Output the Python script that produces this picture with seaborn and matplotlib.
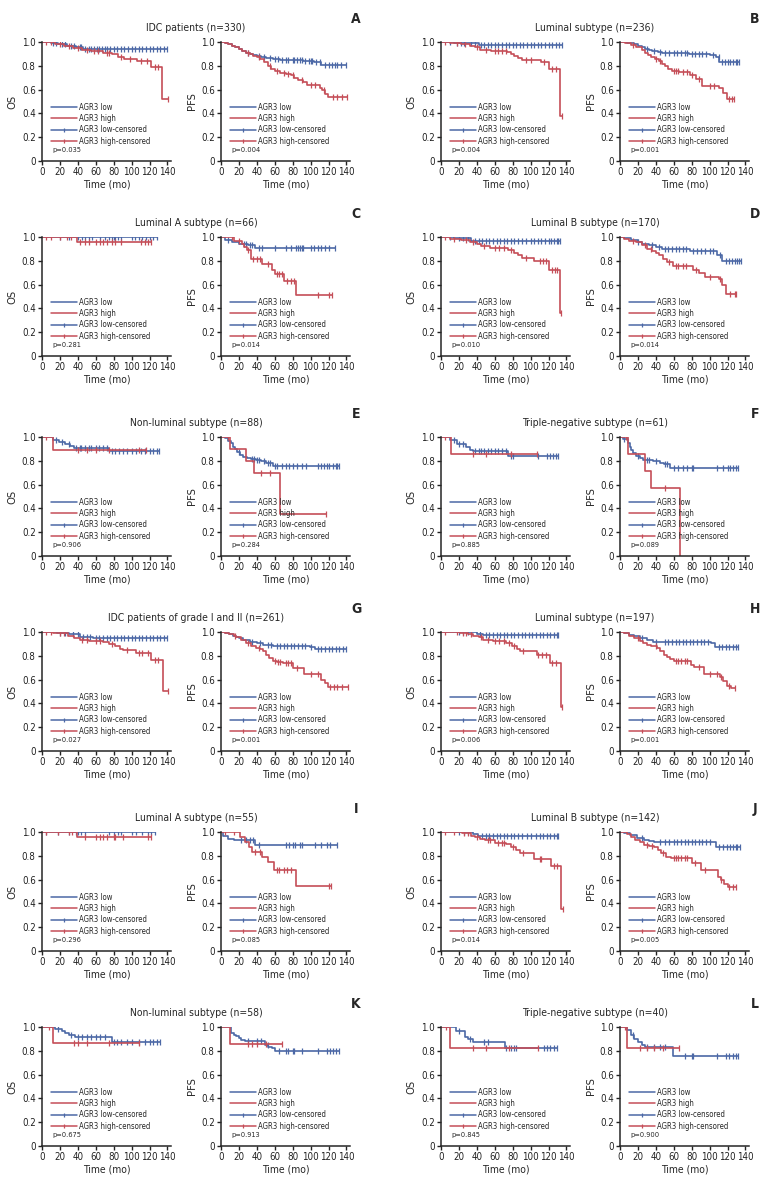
import matplotlib
matplotlib.use('Agg')

import matplotlib.pyplot as plt
from matplotlib.lines import Line2D
import seaborn as sns

# each curve: (event times, survival after each event, censor times)
A_os_low = ([10, 18, 28, 38, 46], [0.99, 0.98, 0.97, 0.955, 0.945],
            [12, 16, 22, 26, 32, 36, 42, 44, 48, 52, 55, 58, 61, 64, 67, 70, 73, 76, 80, 84, 88, 92, 96,
             100, 104, 108, 112, 116, 120, 124, 128, 132, 136, 140])
A_os_high = ([15, 25, 35, 45, 55, 68, 78, 85, 92, 106, 122, 134],
             [0.98, 0.965, 0.95, 0.935, 0.925, 0.91, 0.895, 0.87, 0.86, 0.84, 0.79, 0.52],
             [5, 10, 20, 30, 40, 50, 58, 63, 72, 75, 88, 98, 110, 117, 126, 130, 141])
A_pfs_low = ([4, 8, 12, 16, 20, 24, 28, 32, 36, 40, 45, 50, 58, 66, 78, 92, 104, 112],
             [0.99, 0.98, 0.97, 0.955, 0.94, 0.925, 0.91, 0.9, 0.89, 0.88, 0.87, 0.865, 0.855, 0.85, 0.845,
              0.84, 0.835, 0.81],
             [30, 42, 48, 55, 60, 64, 68, 72, 75, 80, 82, 85, 88, 90, 94, 98, 100, 102, 106, 110, 116,
              120, 124, 127, 130, 134, 140])
A_pfs_high = ([4, 8, 12, 16, 20, 24, 28, 32, 36, 40, 44, 48, 52, 56, 60, 66, 72, 78, 82, 86, 92, 96, 110,
               113, 116, 119],
              [0.99, 0.98, 0.97, 0.96, 0.945, 0.925, 0.91, 0.895, 0.88, 0.87, 0.855, 0.83, 0.8, 0.77, 0.755,
               0.74, 0.73, 0.72, 0.7, 0.68, 0.665, 0.635, 0.615, 0.595, 0.565, 0.54],
              [30, 42, 55, 62, 70, 75, 80, 90, 100, 105, 115, 125, 130, 135, 141])

B_os_low = ([15, 30, 42], [0.995, 0.99, 0.975],
            [10, 18, 22, 26, 34, 38, 45, 48, 52, 56, 60, 64, 68, 72, 76, 80, 84, 88, 92, 96, 100, 104,
             108, 112, 116, 120, 124, 128, 132, 135])
B_os_high = ([10, 22, 32, 38, 44, 56, 74, 78, 82, 86, 90, 112, 121, 133],
             [0.995, 0.985, 0.97, 0.955, 0.935, 0.922, 0.912, 0.9, 0.88, 0.865, 0.85, 0.83, 0.775, 0.38],
             [5, 18, 27, 40, 50, 60, 64, 68, 72, 95, 100, 115, 124, 128, 135])
B_pfs_low = ([8, 16, 20, 24, 28, 32, 36, 42, 47, 77, 100, 107, 111],
             [0.99, 0.98, 0.97, 0.958, 0.945, 0.935, 0.925, 0.915, 0.905, 0.895, 0.89, 0.87, 0.83],
             [30, 38, 45, 50, 55, 60, 64, 68, 72, 75, 80, 84, 88, 92, 96, 104, 110, 114, 117, 120, 123,
              126, 129, 131, 133])
B_pfs_high = ([6, 12, 18, 24, 28, 31, 35, 39, 43, 47, 50, 54, 58, 66, 78, 85, 92, 110, 115, 119],
              [0.99, 0.978, 0.96, 0.93, 0.91, 0.888, 0.87, 0.86, 0.84, 0.818, 0.795, 0.776, 0.76, 0.745,
               0.72, 0.69, 0.63, 0.61, 0.57, 0.525],
              [15, 40, 45, 60, 62, 65, 70, 75, 80, 88, 100, 105, 122, 125, 127])

C_os_low = ([], [], [20, 30, 40, 45, 48, 52, 56, 65, 70, 75, 78, 80, 82, 85, 88, 100, 104, 108, 112, 116,
                     120, 124, 128])
C_os_high = ([39], [0.955], [5, 10, 20, 28, 32, 42, 48, 52, 60, 65, 68, 72, 78, 82, 88, 110, 115, 118, 122])
C_pfs_low = ([4, 12, 20, 30, 38], [0.975, 0.96, 0.945, 0.93, 0.91],
             [8, 26, 28, 32, 35, 42, 46, 60, 72, 78, 84, 86, 88, 90, 92, 100, 104, 108, 112, 116, 120, 127])
C_pfs_high = ([15, 23, 26, 29, 33, 46, 57, 60, 70, 84],
              [0.97, 0.945, 0.915, 0.888, 0.815, 0.776, 0.72, 0.686, 0.63, 0.515],
              [12, 20, 30, 36, 40, 44, 53, 63, 65, 68, 74, 78, 81, 108, 121, 124])

D_os_low = ([15, 34], [0.99, 0.967],
            [10, 20, 25, 30, 38, 42, 46, 50, 54, 58, 62, 66, 70, 74, 78, 82, 86, 90, 95, 100, 104, 108,
             112, 116, 120, 123, 126, 129, 131, 133])
D_os_high = ([10, 22, 32, 40, 45, 55, 75, 82, 86, 90, 104, 121, 133],
             [0.985, 0.975, 0.955, 0.94, 0.925, 0.91, 0.89, 0.865, 0.845, 0.82, 0.8, 0.725, 0.365],
             [5, 15, 28, 36, 48, 60, 65, 70, 78, 95, 110, 114, 117, 124, 127, 130, 134])
D_pfs_low = ([5, 12, 20, 25, 32, 40, 47, 78, 108, 114],
             [0.99, 0.975, 0.96, 0.944, 0.93, 0.915, 0.9, 0.88, 0.845, 0.8],
             [20, 36, 44, 50, 54, 58, 62, 66, 70, 74, 82, 86, 90, 95, 100, 104, 112, 118, 122, 125, 128,
              131, 133, 135])
D_pfs_high = ([4, 10, 18, 24, 30, 36, 40, 44, 48, 52, 59, 82, 88, 95, 110, 114, 118],
              [0.985, 0.97, 0.955, 0.93, 0.9, 0.88, 0.865, 0.846, 0.815, 0.79, 0.76, 0.72, 0.7, 0.665, 0.65,
               0.6, 0.525],
              [14, 28, 35, 55, 62, 65, 70, 74, 85, 100, 112, 123, 128, 130])

E_os_low = ([12, 19, 26, 31, 36, 75], [0.977, 0.955, 0.94, 0.927, 0.908, 0.886],
            [16, 22, 30, 38, 42, 44, 48, 52, 55, 60, 64, 68, 72, 78, 82, 86, 90, 95, 100, 105, 110, 115,
             120, 124, 128, 131])
E_os_high = ([12], [0.894], [5, 40, 50, 60, 75, 108, 116])
E_pfs_low = ([4, 8, 11, 13, 16, 18, 21, 25, 29, 33, 39, 45, 50, 58],
             [0.99, 0.97, 0.95, 0.92, 0.895, 0.87, 0.85, 0.835, 0.824, 0.815, 0.81, 0.795, 0.78, 0.76],
             [20, 35, 37, 40, 42, 48, 52, 55, 60, 63, 68, 72, 76, 80, 85, 90, 95, 108, 112, 115, 118, 121,
              125, 128, 130, 132])
E_pfs_high = ([10.5, 28, 37, 66], [0.9, 0.8, 0.7, 0.35], [8, 45, 55, 117])

F_os_low = ([10, 17.5, 28, 32, 36, 75], [0.978, 0.944, 0.92, 0.894, 0.88, 0.844],
            [14, 20, 24, 38, 42, 45, 48, 52, 56, 60, 64, 68, 72, 78, 80, 108, 118, 122, 125, 128, 131])
F_os_high = ([10.8], [0.86], [5, 36, 50, 78, 107.5])
F_pfs_low = ([3, 8.7, 11, 12.5, 15, 18, 22, 26, 37, 45, 49, 56],
             [0.986, 0.95, 0.92, 0.894, 0.865, 0.84, 0.825, 0.81, 0.8, 0.785, 0.77, 0.74],
             [5, 20, 30, 32, 40, 50, 52, 60, 65, 70, 75, 80, 82, 108, 115, 120, 123, 126, 129, 132])
F_pfs_high = ([8.7, 27.8, 35, 66.5], [0.86, 0.715, 0.57, 0.0], [7, 50])

G_os_low = ([17, 30, 42, 57], [0.99, 0.983, 0.96, 0.947],
            [20, 26, 35, 40, 46, 50, 54, 60, 64, 68, 72, 76, 80, 84, 88, 92, 96, 100, 104, 108, 112, 116,
             120, 124, 128, 132, 136, 139])
G_os_high = ([12, 29, 36, 42, 53, 68, 75, 81, 86.6, 90, 105, 122, 135],
             [0.99, 0.97, 0.95, 0.936, 0.922, 0.914, 0.9, 0.88, 0.86, 0.847, 0.82, 0.764, 0.503],
             [5, 10, 20, 25, 45, 50, 60, 65, 78, 95, 108, 112, 118, 126, 130, 141])
G_pfs_low = ([5, 9, 13, 17, 20, 25, 32, 40, 47, 58, 99, 104.5],
             [0.99, 0.98, 0.97, 0.958, 0.947, 0.935, 0.92, 0.905, 0.894, 0.88, 0.872, 0.858],
             [35, 44, 52, 56, 62, 66, 70, 74, 78, 82, 86, 90, 94, 100, 108, 112, 116, 120, 124, 128, 132,
              136, 140])
G_pfs_high = ([5, 9, 14, 17, 22, 28, 34, 39, 44, 47, 50, 54, 58, 62, 69, 80.6, 93, 112, 115.7, 119.4],
              [0.99, 0.983, 0.97, 0.958, 0.935, 0.908, 0.885, 0.867, 0.855, 0.84, 0.81, 0.783, 0.76, 0.747,
               0.736, 0.7, 0.644, 0.6, 0.575, 0.54],
              [16, 30, 42, 60, 64, 66, 72, 75, 78, 85, 100, 108, 122, 126, 130, 135, 141.8])

H_os_low = ([40, 47], [0.986, 0.972],
            [20, 25, 30, 34, 44, 50, 54, 58, 62, 66, 70, 74, 78, 82, 86, 90, 94, 98, 102, 106, 110, 114,
             118, 122, 126, 129, 131])
H_os_high = ([21, 30, 36, 42, 47, 58, 73, 78.8, 84.4, 88, 106.7, 121.6, 133.8],
             [0.99, 0.98, 0.97, 0.955, 0.936, 0.922, 0.908, 0.88, 0.858, 0.84, 0.81, 0.742, 0.372],
             [5, 18, 25, 28, 33, 45, 52, 60, 65, 70, 76, 82, 92, 108, 113, 117, 124, 128, 135.3])
H_pfs_low = ([5, 10.6, 16, 22, 29.7, 37, 45, 102, 105.7],
             [0.99, 0.978, 0.965, 0.95, 0.936, 0.92, 0.914, 0.908, 0.872],
             [25, 40, 50, 54, 58, 62, 66, 70, 74, 78, 82, 86, 90, 94, 98, 110, 114, 118, 122, 126, 129,
              132])
H_pfs_high = ([5, 10.6, 16, 22, 26, 29.7, 35, 41, 45, 48.7, 52, 56, 60, 79, 83, 94, 111.4, 115, 119, 124],
              [0.99, 0.97, 0.95, 0.922, 0.905, 0.894, 0.88, 0.867, 0.84, 0.81, 0.79, 0.77, 0.755, 0.725,
               0.708, 0.65, 0.62, 0.586, 0.544, 0.53],
              [20, 40, 62, 65, 68, 72, 75, 88, 100, 108, 113, 122, 128.5])

I_os_low = ([], [], [5, 18, 30, 38, 40, 44, 48, 75, 80, 85, 88, 100, 105, 112, 118, 122, 125.8])
I_os_high = ([39], [0.958], [5, 18, 30, 34, 48, 60, 65, 68, 72, 80, 82, 90, 118, 122])
I_pfs_low = ([2, 8, 15, 38], [0.964, 0.945, 0.93, 0.888],
             [22, 28, 32, 36, 42, 72, 76, 80, 83, 88, 90, 105, 112, 118, 122, 129])
I_pfs_high = ([21, 27, 31, 34.6, 46, 52, 59, 83.5], [0.958, 0.92, 0.874, 0.832, 0.79, 0.75, 0.684, 0.545],
              [5, 15, 38, 44, 62, 65, 70, 74, 78, 120, 123])

J_os_low = ([36, 41.6], [0.986, 0.966],
            [20, 26, 30, 46, 50, 54, 58, 62, 66, 70, 74, 78, 82, 86, 90, 96, 100, 106, 110, 114, 118, 122,
             126, 129, 131])
J_os_high = ([23, 34, 38, 44, 49, 60, 73, 78.5, 84, 88, 104, 122.7, 133.7],
             [0.99, 0.97, 0.958, 0.94, 0.93, 0.91, 0.902, 0.874, 0.846, 0.824, 0.776, 0.712, 0.357],
             [5, 15, 26, 30, 40, 52, 55, 64, 68, 70, 80, 92, 110, 112, 126, 130, 136])
J_pfs_low = ([5, 11.4, 19, 26.7, 32, 38, 42, 103, 107],
             [0.99, 0.978, 0.953, 0.936, 0.925, 0.92, 0.916, 0.912, 0.874],
             [25, 45, 50, 55, 60, 64, 68, 72, 76, 80, 84, 88, 92, 96, 100, 110, 115, 119, 123, 126, 129,
              131, 133.6])
J_pfs_high = ([7.6, 12, 17, 22, 26.7, 32, 38, 42, 46, 51.5, 57, 80, 90, 109, 112.6, 116.4, 120],
              [0.986, 0.96, 0.936, 0.915, 0.894, 0.885, 0.874, 0.85, 0.824, 0.79, 0.78, 0.74, 0.684, 0.62,
               0.594, 0.56, 0.536],
              [30, 36, 48, 60, 62, 65, 68, 72, 75, 84, 95, 113, 122, 126, 130])

K_os_low = ([15, 22, 26, 29.6, 37, 77.8], [0.983, 0.964, 0.95, 0.936, 0.913, 0.877],
            [18, 32, 40, 45, 50, 55, 60, 65, 70, 80, 84, 88, 95, 100, 108, 115, 120, 124, 128, 131.5])
K_os_high = ([11.8], [0.866], [8, 36, 40, 50, 75, 108])
K_pfs_low = ([11.4, 14, 17, 20, 22.7, 26.5, 49, 53, 57, 60.5],
             [0.95, 0.935, 0.922, 0.908, 0.894, 0.88, 0.85, 0.835, 0.824, 0.796],
             [30, 40, 45, 52, 65, 72, 75, 80, 82, 90, 108, 118, 122, 125, 128, 132])
K_pfs_high = ([9.5], [0.857], [30, 35, 40, 50, 68])

L_os_low = ([17, 26.6, 30, 36, 71.7], [0.964, 0.92, 0.9, 0.87, 0.827],
            [20, 32, 48, 52, 72, 78, 82, 84, 115, 118, 122, 126, 130])
L_os_high = ([10], [0.827], [6, 36, 50, 76, 108])
L_pfs_low = ([8, 12.5, 16, 20, 24, 27.5, 59.6], [0.978, 0.936, 0.9, 0.87, 0.85, 0.83, 0.76],
             [14, 30, 38, 45, 50, 72, 80, 82, 108, 118, 122, 126, 129, 132])
L_pfs_high = ([8], [0.827], [6, 22, 30, 38, 48, 66.4])

letters = ['A', 'B', 'C', 'D', 'E', 'F', 'G', 'H', 'I', 'J', 'K', 'L']
titles = ['IDC patients (n=330)', 'Luminal subtype (n=236)',
          'Luminal A subtype (n=66)', 'Luminal B subtype (n=170)',
          'Non-luminal subtype (n=88)', 'Triple-negative subtype (n=61)',
          'IDC patients of grade I and II (n=261)', 'Luminal subtype (n=197)',
          'Luminal A subtype (n=55)', 'Luminal B subtype (n=142)',
          'Non-luminal subtype (n=58)', 'Triple-negative subtype (n=40)']
p_os = ['0.035', '0.004', '0.281', '0.010', '0.906', '0.885', '0.027', '0.006', '0.296', '0.014', '0.675', '0.845']
p_pfs = ['0.004', '0.001', '0.014', '0.014', '0.284', '0.089', '0.001', '0.001', '0.085', '0.005', '0.913', '0.900']
curves = [
    (A_os_low, A_os_high, A_pfs_low, A_pfs_high), (B_os_low, B_os_high, B_pfs_low, B_pfs_high),
    (C_os_low, C_os_high, C_pfs_low, C_pfs_high), (D_os_low, D_os_high, D_pfs_low, D_pfs_high),
    (E_os_low, E_os_high, E_pfs_low, E_pfs_high), (F_os_low, F_os_high, F_pfs_low, F_pfs_high),
    (G_os_low, G_os_high, G_pfs_low, G_pfs_high), (H_os_low, H_os_high, H_pfs_low, H_pfs_high),
    (I_os_low, I_os_high, I_pfs_low, I_pfs_high), (J_os_low, J_os_high, J_pfs_low, J_pfs_high),
    (K_os_low, K_os_high, K_pfs_low, K_pfs_high), (L_os_low, L_os_high, L_pfs_low, L_pfs_high),
]

BLUE = '#4c68a6'
RED = '#c54e58'

sns.set_style('ticks')
plt.rcParams['font.family'] = ['Liberation Sans Narrow', 'DejaVu Sans']
plt.rcParams['font.stretch'] = 'condensed'
plt.rcParams['axes.linewidth'] = 1.1

W, H = 778, 1188
fig = plt.figure(figsize=(W / 100, H / 100), dpi=100)

row_top = [42, 237, 437, 632, 832, 1027]
col_os = [42, 441]
col_pfs = [221, 620]
AW, AH = 129, 119


def draw_curve(ax, curve, color):
    t, s, c = curve
    end = max([0] + list(t) + list(c))
    x = [0] + list(t) + [end]
    y = [1.0] + list(s) + [s[-1] if s else 1.0]
    sns.lineplot(x=x, y=y, drawstyle='steps-post', color=color, lw=1.2,
                 estimator=None, sort=False, ax=ax)
    cy = []
    for ci in c:
        v = 1.0
        for ti, si in zip(t, s):
            if ti <= ci:
                v = si
        cy.append(v)
    ax.plot(c, cy, ls='none', marker='|', ms=4, mew=0.9, color=color)


def style_axes(ax, ylabel, p):
    ax.set_xlim(0, 144)
    ax.set_ylim(0, 1.0)
    ax.set_xticks([0, 20, 40, 60, 80, 100, 120, 140])
    ax.set_yticks([0, 0.2, 0.4, 0.6, 0.8, 1.0])
    ax.set_yticklabels(['0', '0.2', '0.4', '0.6', '0.8', '1.0'])
    ax.tick_params(labelsize=7, length=3, width=1, pad=1.5, colors='#222222')
    for sp in ['top', 'right']:
        ax.spines[sp].set_visible(False)
    ax.set_ylabel(ylabel, fontsize=8, labelpad=3)
    ax.set_xlabel('Time (mo)', fontsize=7.5, labelpad=1.5)
    handles = [Line2D([0], [0], color=BLUE, lw=1.1),
               Line2D([0], [0], color=RED, lw=1.1),
               Line2D([0], [0], color=BLUE, lw=1.1, marker='|', ms=3.5, mew=0.9),
               Line2D([0], [0], color=RED, lw=1.1, marker='|', ms=3.5, mew=0.9)]
    labels = ['AGR3 low', 'AGR3 high', 'AGR3 low-censored', 'AGR3 high-censored']
    ax.legend(handles, labels, loc='upper left', bbox_to_anchor=(0.07, 0.49), frameon=False,
              fontsize=5.6, handlelength=3.3, handletextpad=0.35, labelspacing=0.3, borderpad=0,
              borderaxespad=0)
    ax.text(0.08, 0.09, 'p=' + p, transform=ax.transAxes, fontsize=5.3, va='center', ha='left')


for i in range(12):
    r, col = divmod(i, 2)
    top = row_top[r]
    os_low, os_high, pfs_low, pfs_high = curves[i]
    ax1 = fig.add_axes([col_os[col] / W, 1 - (top + AH) / H, AW / W, AH / H])
    ax2 = fig.add_axes([col_pfs[col] / W, 1 - (top + AH) / H, AW / W, AH / H])
    draw_curve(ax1, os_low, BLUE)
    draw_curve(ax1, os_high, RED)
    draw_curve(ax2, pfs_low, BLUE)
    draw_curve(ax2, pfs_high, RED)
    style_axes(ax1, 'OS', p_os[i])
    style_axes(ax2, 'PFS', p_pfs[i])
    cx = (col_os[col] + col_pfs[col] + AW) / 2
    fig.text(cx / W, 1 - (top - 14) / H, titles[i], ha='center', va='center', fontsize=7.5)
    lx = 356 if col == 0 else 755
    fig.text(lx / W, 1 - (top - 23) / H, letters[i], ha='center', va='center', fontsize=10,
             fontweight='bold')

fig.savefig('out.png', dpi=100)
